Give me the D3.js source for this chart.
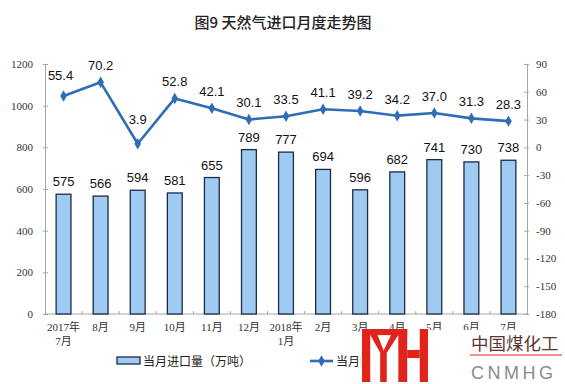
<!DOCTYPE html>
<html><head><meta charset="utf-8">
<script src="https://cdn.jsdelivr.net/npm/d3@7"></script>
<style>
body{margin:0;background:#fff;}
svg{display:block;}
</style></head>
<body>
<svg id="c" width="565" height="384"></svg>
<script>
const categories = ["2017年|7月","8月","9月","10月","11月","12月","2018年|1月","2月","3月","4月","5月","6月","7月"];
const importVolume = [575,566,594,581,655,789,777,694,596,682,741,730,738];
const yoyGrowth = [55.4,70.2,3.9,52.8,42.1,30.1,33.5,41.1,39.2,34.2,37.0,31.3,28.3];
const leftTicks = [0,200,400,600,800,1000,1200];
const rightTicks = [-180,-150,-120,-90,-60,-30,0,30,60,90];
const title = "图9 天然气进口月度走势图";
const legendBar = "当月进口量（万吨）";
const legendLine = "当月同比（%）";

const svg = d3.select("#c");
const L = 45, R = 527, T = 64, B = 314;
const tickFont = "'Liberation Serif','Noto Sans CJK SC',serif";
const cjkFont = "'Noto Sans CJK SC','Liberation Serif',sans-serif";
const numFont = "'Liberation Sans',Arial,sans-serif";

const x = d3.scaleBand().domain(categories).range([L, R]).paddingInner(0.6).paddingOuter(0.3);
const yL = d3.scaleLinear().domain([0,1200]).range([B, T]);
const yR = d3.scaleLinear().domain([-180,90]).range([B, T]);

svg.append("text").attr("x",283).attr("y",28).attr("text-anchor","middle")
  .attr("font-family",cjkFont).attr("font-size",15).attr("font-weight",500).attr("fill","#222").text(title);

// axes
const axisColor = "#a6a6a6";
const plain = v => String(v);
const gl = svg.append("g").attr("transform",`translate(${L},0)`)
  .call(d3.axisLeft(yL).tickValues(leftTicks).tickFormat(plain).tickSize(0).tickPadding(12));
gl.attr("font-family",tickFont);
gl.select(".domain").attr("stroke",axisColor);
gl.selectAll("text").attr("font-family",tickFont).attr("font-size",11).attr("fill","#333");
gl.selectAll(".tick").append("line").attr("x1",-2).attr("x2",3).attr("stroke",axisColor);

const gr = svg.append("g").attr("transform",`translate(${R},0)`)
  .call(d3.axisRight(yR).tickValues(rightTicks).tickFormat(plain).tickSize(0).tickPadding(9));
gr.attr("font-family",tickFont);
gr.select(".domain").attr("stroke",axisColor);
gr.selectAll("text").attr("font-family",tickFont).attr("font-size",11).attr("fill","#333");
gr.selectAll(".tick").append("line").attr("x1",-3).attr("x2",2).attr("stroke",axisColor);

// bottom axis
svg.append("line").attr("x1",L).attr("x2",R).attr("y1",B).attr("y2",B).attr("stroke",axisColor);
const step = x.step();
svg.append("g").selectAll("line").data(categories.slice(1)).join("line")
  .attr("x1",d=>x(d)-(step-x.bandwidth())/2).attr("x2",d=>x(d)-(step-x.bandwidth())/2)
  .attr("y1",B-3).attr("y2",B).attr("stroke",axisColor);
const xl = svg.append("g").selectAll("text").data(categories).join("text")
  .attr("x",d=>x(d)+x.bandwidth()/2).attr("y",331).attr("text-anchor","middle")
  .attr("font-family",tickFont).attr("font-size",11).attr("fill","#333");
xl.each(function(d){
  const parts = d.split("|");
  const t = d3.select(this);
  parts.forEach((p,i)=>t.append("tspan").attr("x",x(d)+x.bandwidth()/2).attr("dy",i?14:0).text(p));
});

// bars
svg.append("g").selectAll("rect").data(importVolume).join("rect")
  .attr("x",(d,i)=>x(categories[i])).attr("width",x.bandwidth())
  .attr("y",d=>yL(d)).attr("height",d=>B-yL(d))
  .attr("fill","#9fcbf3").attr("stroke","#1c2a48").attr("stroke-width",1.3);
svg.append("g").selectAll("text").data(importVolume).join("text")
  .attr("x",(d,i)=>x(categories[i])+x.bandwidth()/2).attr("y",d=>yL(d)-8)
  .attr("text-anchor","middle").attr("font-family",numFont).attr("font-size",13).attr("fill","#111")
  .text(d=>d);

// line
const cx = i => x(categories[i])+x.bandwidth()/2;
const lineColor = "#2f6db5";
svg.append("path").datum(yoyGrowth)
  .attr("d",d3.line().x((d,i)=>cx(i)).y(d=>yR(d)))
  .attr("fill","none").attr("stroke",lineColor).attr("stroke-width",2.6).attr("stroke-linejoin","round");
const diamond = d3.symbol().type(d3.symbolDiamond).size(38);
svg.append("g").selectAll("path").data(yoyGrowth).join("path")
  .attr("transform",(d,i)=>`translate(${cx(i)},${yR(d)})`).attr("d",diamond).attr("fill",lineColor);
svg.append("g").selectAll("text").data(yoyGrowth).join("text")
  .attr("x",(d,i)=>cx(i)-(i===0?3:0)).attr("y",(d,i)=>yR(d)-(i===2?20:(i===0?16:12)))
  .attr("text-anchor","middle").attr("font-family",numFont).attr("font-size",13).attr("fill","#111")
  .text(d=>d.toFixed(1));

// legend
svg.append("rect").attr("x",117).attr("y",357).attr("width",23).attr("height",7)
  .attr("fill","#9fcbf3").attr("stroke","#1c2a48").attr("stroke-width",1.3);
svg.append("text").attr("x",143).attr("y",365.5).attr("font-family",cjkFont).attr("font-size",12).attr("fill","#222").text(legendBar);
svg.append("line").attr("x1",310).attr("x2",333).attr("y1",361).attr("y2",361).attr("stroke",lineColor).attr("stroke-width",2.6);
svg.append("path").attr("transform","translate(321.5,361)").attr("d",diamond).attr("fill",lineColor);
svg.append("text").attr("x",336).attr("y",365.5).attr("font-family",cjkFont).attr("font-size",12).attr("fill","#222").text(legendLine);

// watermark
const wm = svg.append("g");
wm.append("rect").attr("x",361).attr("y",330).attr("width",204).attr("height",54).attr("fill","#fff");
const red = "#e0241c";
const lx = v => 362 + (v-125)*66/200, ly = v => 329 + (v-88)*53/157;
const rects = [[125,88,150,245],[125,88,262,106],[235,88,262,245],[180,160,200,245],[262,150,300,174],[300,88,325,245]];
rects.forEach(r=>wm.append("rect").attr("x",lx(r[0])).attr("y",ly(r[1])).attr("width",lx(r[2])-lx(r[0])).attr("height",ly(r[3])-ly(r[1])).attr("fill",red));
wm.append("path").attr("d",`M${lx(150)},${ly(106)} L${lx(172)},${ly(106)} L${lx(196)},${ly(165)} L${lx(184)},${ly(165)} Z`).attr("fill",red);
wm.append("path").attr("d",`M${lx(235)},${ly(106)} L${lx(213)},${ly(106)} L${lx(184)},${ly(165)} L${lx(196)},${ly(165)} Z`).attr("fill",red);
wm.append("text").attr("x",471).attr("y",350).attr("font-family",cjkFont).attr("font-size",17.5).attr("fill","#5b3535").text("中国煤化工");
wm.append("line").attr("x1",470).attr("x2",562).attr("y1",355).attr("y2",355).attr("stroke",red).attr("stroke-width",1.2);
wm.append("text").attr("x",471).attr("y",379).attr("font-family","'Liberation Sans',sans-serif").attr("font-size",18).attr("letter-spacing",3.5).attr("fill","#8a8a8a").text("CNMHG");
</script>
</body></html>
